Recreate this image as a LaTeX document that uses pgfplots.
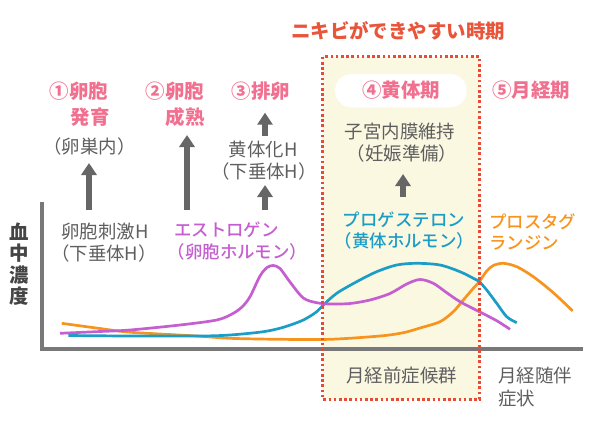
\documentclass[border=0pt]{standalone}
\usepackage{fontspec}
\setmainfont{Noto Sans CJK JP}
\newfontfamily\medfont{Noto Sans CJK JP Medium}
\usepackage{pgfplots}
\pgfplotsset{compat=1.18}
\usetikzlibrary{arrows.meta}
\definecolor{pinkc}{HTML}{F2708F}
\definecolor{titlec}{HTML}{E9553A}
\definecolor{purplec}{HTML}{C55ECF}
\definecolor{bluec}{HTML}{1B9DC6}
\definecolor{orangec}{HTML}{F7941D}
\definecolor{graytext}{HTML}{5E5E5E}
\definecolor{darktext}{HTML}{454545}
\definecolor{axgray}{HTML}{787878}
\definecolor{arrowgray}{HTML}{666666}
\definecolor{dotred}{HTML}{EA4A33}
\definecolor{boxfill}{HTML}{FBF8E2}
\newcommand\gfont{\fontsize{18.5}{21}\selectfont}
\newcommand\hfont{\fontsize{19.5}{22}\selectfont\bfseries}
\newcommand\lfont{\fontsize{17.5}{20}\selectfont\medfont}
\begin{document}
\begin{tikzpicture}
\begin{axis}[width=600bp,height=422bp,scale only axis,
  xmin=0,xmax=600,ymin=0,ymax=422,y dir=reverse,hide axis,clip=false]
% highlighted period
\fill[boxfill] (axis cs:322.7,56.7) rectangle (axis cs:479.3,399.3);
\fill[white, rounded corners=16.5bp] (axis cs:335,74) rectangle (axis cs:466.7,107.3);
% axes
\draw[axgray, line width=4bp] (axis cs:42,202) -- (axis cs:42,349) -- (axis cs:583,349);
% curves
\addplot[orangec, line width=2.7bp, smooth] coordinates {
(61.7,323.3) (100,328.5) (130,332.2) (196.7,336) (230,338.3) (280,339.3) (330,339.3)
(380,336) (403.3,332.7) (420,328) (440,321.7) (453.3,311.7) (463.3,300) (473.3,288.3)
(479.3,281.7) (486.7,271) (493.3,265.5) (503.3,263.3) (516.7,266.7) (533.3,276.7)
(553.3,292.7) (572.7,311)};
\addplot[bluec, line width=2.7bp, smooth] coordinates {
(68.3,335.5) (130,336) (200,336) (230,335) (263.3,331.7) (283.3,327.3) (303.3,320)
(316.7,311.7) (323.3,305) (336.7,293.3) (356.7,281.7) (376.7,271.7) (396.7,265)
(416.7,263.3) (440,265) (460,271.7) (473.3,278.3) (479.3,281.7) (486.7,290)
(496.7,303.3) (506.7,316.7) (516.7,322.7)};
\addplot[purplec, line width=2.7bp, smooth] coordinates {
(60,333.3) (100,331.5) (130,330) (180,325) (216.7,320) (232,314) (242,307)
(250,296.7) (260,276) (267,267.5) (273.3,265.5) (280,268.5) (290,282) (303.3,298)
(316.7,302.7) (330,304) (350,303.5) (370,300) (390,293.5) (406.7,284) (420,279.5)
(433.3,283.3) (446.7,292.7) (460,301.7) (479.3,311.7) (496.7,320.7) (510,329.3)};
% dotted frame
\draw[dotred, line width=2.6bp, dash pattern=on 2.6bp off 2.6bp]
  (axis cs:322.7,56.7) rectangle (axis cs:479.3,399.3);
% arrows
\tikzset{garrow/.style={arrowgray, line width=5.5bp, -{Triangle[width=15bp,length=12bp]}}}
\draw[garrow] (axis cs:89,210) -- (axis cs:89,163);
\draw[garrow] (axis cs:187,210) -- (axis cs:187,135);
\draw[garrow] (axis cs:265,136) -- (axis cs:265,112.7);
\draw[garrow] (axis cs:265,210) -- (axis cs:265,185);
\draw[garrow] (axis cs:403,197) -- (axis cs:403,174);
% title
\node[text=titlec, font=\hfont] at (axis cs:398,31) {ニキビができやすい時期};
% phase headings
\node[text=pinkc, font=\hfont] at (axis cs:79,91.7) {①卵胞};
\node[text=pinkc, font=\hfont] at (axis cs:90,116.7) {発育};
\node[text=pinkc, font=\hfont] at (axis cs:175,91.7) {②卵胞};
\node[text=pinkc, font=\hfont] at (axis cs:185,116.7) {成熟};
\node[text=pinkc, font=\hfont] at (axis cs:261,91.7) {③排卵};
\node[text=pinkc, font=\hfont] at (axis cs:401,90) {④黄体期};
\node[text=pinkc, font=\hfont] at (axis cs:531,90) {⑤月経期};
% gray notes
\node[text=graytext, font=\gfont] at (axis cs:89.5,146) {（卵巣内）};
\node[text=graytext, font=\gfont] at (axis cs:263.3,150) {黄体化H};
\node[text=graytext, font=\gfont] at (axis cs:264,171.7) {（下垂体H）};
\node[text=graytext, font=\gfont] at (axis cs:400,131.7) {子宮内膜維持};
\node[text=graytext, font=\gfont] at (axis cs:402,153.3) {（妊娠準備）};
\node[text=graytext, font=\gfont] at (axis cs:105,231.7) {卵胞刺激H};
\node[text=graytext, font=\gfont] at (axis cs:104,253.3) {（下垂体H）};
% hormone labels
\node[text=purplec, font=\lfont] at (axis cs:226.5,230) {エストロゲン};
\node[text=purplec, font=\lfont] at (axis cs:237.5,251.7) {（卵胞ホルモン）};
\node[text=bluec, font=\lfont] at (axis cs:404,219.3) {プロゲステロン};
\node[text=bluec, font=\lfont] at (axis cs:404.5,240.7) {（黄体ホルモン）};
\node[text=orangec, font=\lfont, anchor=west, inner sep=0pt] at (axis cs:489,221.7) {プロスタグ};
\node[text=orangec, font=\lfont, anchor=west, inner sep=0pt] at (axis cs:489,243.3) {ランジン};
% y label
\node[text=darktext, font=\hfont] at (axis cs:19,232) {血};
\node[text=darktext, font=\hfont] at (axis cs:19,253.5) {中};
\node[text=darktext, font=\hfont] at (axis cs:19,275) {濃};
\node[text=darktext, font=\hfont] at (axis cs:19,296.5) {度};
% bottom notes
\node[text=graytext, font=\gfont] at (axis cs:401.7,375) {月経前症候群};
\node[text=graytext, font=\gfont, anchor=west, inner sep=0pt] at (axis cs:498,375) {月経随伴};
\node[text=graytext, font=\gfont, anchor=west, inner sep=0pt] at (axis cs:498,398) {症状};
\end{axis}
\path (current axis.south west) rectangle (current axis.north east);
\end{tikzpicture}
\end{document}
